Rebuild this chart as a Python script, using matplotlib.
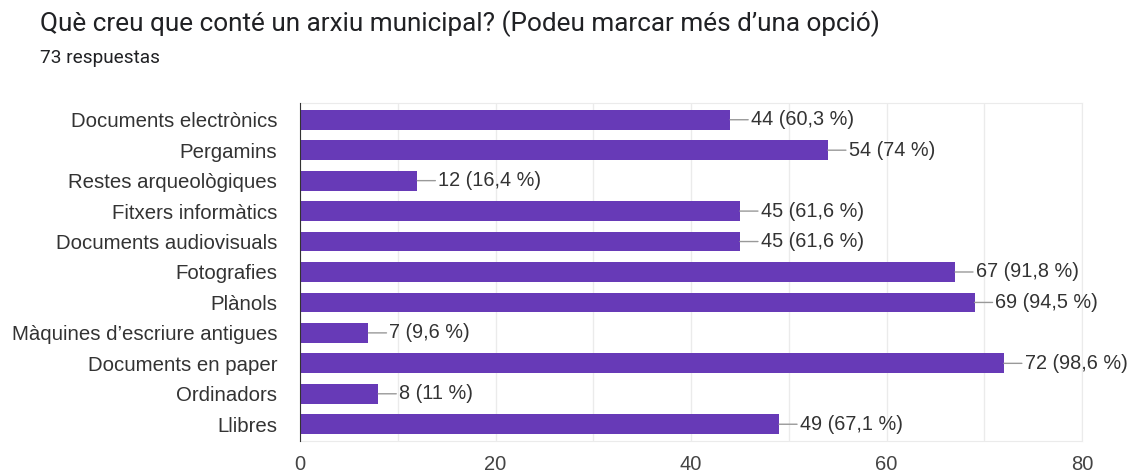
import matplotlib.pyplot as plt
from matplotlib.ticker import MultipleLocator

categories = [
    "Documents electrònics",
    "Pergamins",
    "Restes arqueològiques",
    "Fitxers informàtics",
    "Documents audiovisuals",
    "Fotografies",
    "Plànols",
    "Màquines d\u2019escriure antigues",
    "Documents en paper",
    "Ordinadors",
    "Llibres",
]
counts = [44, 54, 12, 45, 45, 67, 69, 7, 72, 8, 49]
percents = ["60,3", "74", "16,4", "61,6", "61,6", "91,8", "94,5", "9,6", "98,6", "11", "67,1"]

bar_color = "#673ab7"
text_color = "#333333"

plt.rcParams["font.family"] = ["Liberation Sans", "DejaVu Sans"]

fig = plt.figure(figsize=(11.36, 4.72), dpi=100)
ax = fig.add_axes([0.2641, 0.0657, 0.6884, 0.7161])

y = list(range(len(categories)))
ax.barh(y, counts, height=0.65, color=bar_color, zorder=3)

for yi, c, p in zip(y, counts, percents):
    ax.annotate(
        f"{c} ({p} %)",
        xy=(c, yi),
        xytext=(15, 0),
        textcoords="offset points",
        va="center",
        ha="left",
        fontsize=14.3,
        color=text_color,
        arrowprops=dict(arrowstyle="-", color="#999999", lw=1, shrinkA=0, shrinkB=0),
        zorder=4,
    )

ax.set_xlim(0, 80)
ax.set_ylim(10.55, -0.55)
ax.set_yticks(y)
ax.set_yticklabels(categories, fontsize=14.7, color=text_color)
ax.xaxis.set_major_locator(MultipleLocator(20))
ax.xaxis.set_minor_locator(MultipleLocator(10))
ax.tick_params(axis="x", which="both", length=0, labelsize=14.5, labelcolor="#444444", pad=10)
ax.tick_params(axis="y", length=0, pad=16.5)
ax.grid(axis="x", which="both", color="#ebebeb", lw=1, zorder=0)

for side in ["top", "right", "bottom"]:
    ax.spines[side].set_color("#ebebeb")
ax.spines["left"].set_color("#333333")
ax.spines["left"].set_zorder(5)

fig.text(0.035, 0.950, "Què creu que conté un arxiu municipal? (Podeu marcar més d\u2019una opció)",
         fontsize=18.8, family=["Roboto", "DejaVu Sans"], color="#202124", va="center")
fig.text(0.035, 0.877, "73 respuestas", fontsize=13.7, family=["Roboto", "DejaVu Sans"],
         color="#202124", va="center")

fig.savefig("out.png", dpi=100, facecolor="white")
